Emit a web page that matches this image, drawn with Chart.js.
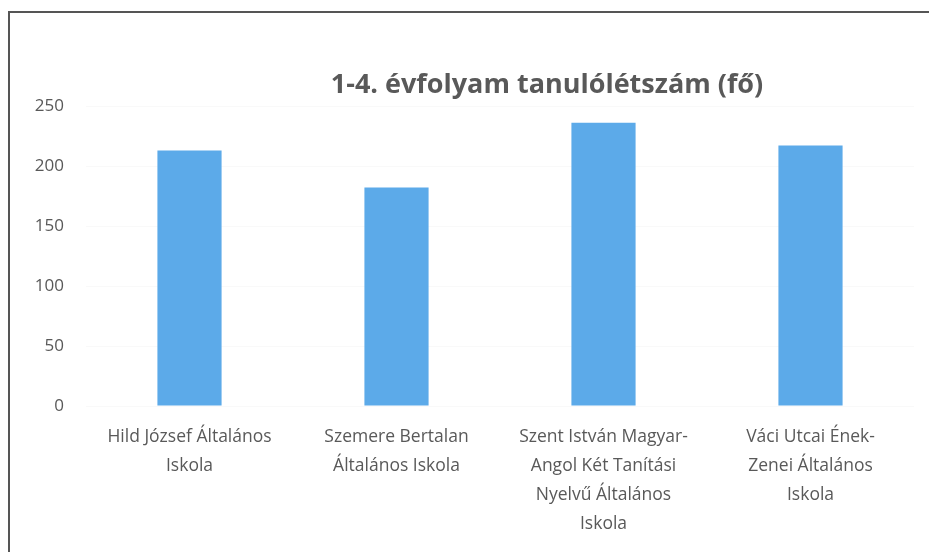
<!DOCTYPE html>
<html>
<head>
<meta charset="utf-8">
<script src="https://cdn.jsdelivr.net/npm/chart.js@4.4.1/dist/chart.umd.min.js"></script>
<style>
    html, body { margin: 0; padding: 0; background: #fff; }
    #wrap { width: 929px; height: 552px; position: relative; }
</style>
</head>
<body>
<div id="wrap"><canvas id="chart"></canvas></div>
<script>
const schools = [
    ['Hild József Általános', 'Iskola'],
    ['Szemere Bertalan', 'Általános Iskola'],
    ['Szent István Magyar-', 'Angol Két Tanítási', 'Nyelvű Általános', 'Iskola'],
    ['Váci Utcai Ének-', 'Zenei Általános', 'Iskola']
];
const pupils = [213, 182, 236, 217];
const yTicks = [0, 50, 100, 150, 200, 250];
const chartTitle = '1-4. évfolyam tanulólétszám (fő)';

const textGray = '#595959';

// scanned page frame + title placed off-centre like the original
const pagePlugin = {
    id: 'page',
    beforeDraw(chart) {
        const { ctx, width, height } = chart;
        ctx.save();
        ctx.fillStyle = '#fff';
        ctx.fillRect(0, 0, width, height);
        ctx.strokeStyle = '#555';
        ctx.lineWidth = 2;
        ctx.beginPath();
        ctx.moveTo(9, height);
        ctx.lineTo(9, 12);
        ctx.lineTo(width, 12);
        ctx.stroke();
        ctx.restore();
    },
    afterDraw(chart) {
        const { ctx } = chart;
        ctx.save();
        ctx.fillStyle = textGray;
        ctx.font = "bold 27px 'Open Sans'";
        ctx.textAlign = 'center';
        ctx.textBaseline = 'middle';
        ctx.fillText(chartTitle, 547, 85);
        ctx.restore();
    }
};

new Chart(document.getElementById('chart'), {
    type: 'bar',
    data: {
        labels: schools,
        datasets: [{
            data: pupils,
            backgroundColor: '#5CAAE9',
            barPercentage: 0.62,
            categoryPercentage: 0.5
        }]
    },
    options: {
        responsive: true,
        maintainAspectRatio: false,
        animation: false,
        layout: { padding: { left: 0, right: 15, top: 106, bottom: 0 } },
        plugins: {
            legend: { display: false },
            title: { display: false },
            tooltip: { enabled: false }
        },
        scales: {
            x: {
                grid: { display: false, drawTicks: false },
                border: { display: false },
                afterFit: (scale) => { scale.height = 146; },
                ticks: {
                    color: textGray,
                    padding: 17,
                    maxRotation: 0,
                    autoSkip: false,
                    font: { family: "'Open Sans'", size: 17.5, lineHeight: 1.65 }
                }
            },
            y: {
                min: 0,
                max: 250,
                afterFit: (scale) => { scale.width = 86; },
                afterBuildTicks: (scale) => { scale.ticks = yTicks.map(v => ({ value: v })); },
                grid: { color: 'rgba(0,0,0,0.025)', drawTicks: false },
                border: { display: false },
                ticks: {
                    color: textGray,
                    padding: 22,
                    font: { family: "'Open Sans'", size: 17 }
                }
            }
        }
    },
    plugins: [pagePlugin]
});
</script>
</body>
</html>
